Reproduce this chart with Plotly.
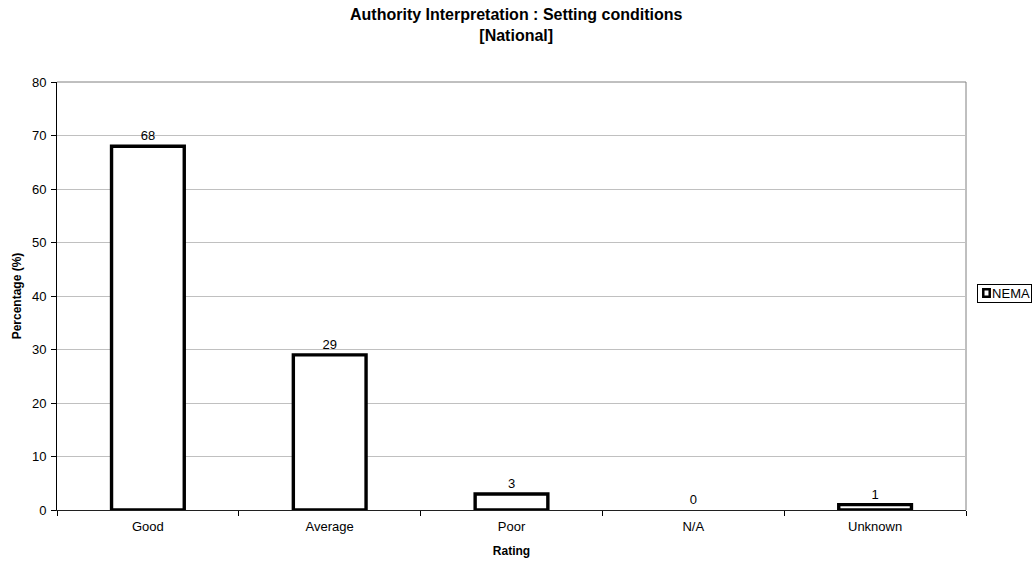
import plotly.graph_objects as go

# Ratings and the percentage for each rating
categories = ["Good", "Average", "Poor", "N/A", "Unknown"]
nema_values = [68, 29, 3, 0, 1]
y_ticks = [0, 10, 20, 30, 40, 50, 60, 70, 80]
series_name = "NEMA"

FONT = "Liberation Sans, Arial, sans-serif"

# Empty bars get no outline so nothing thick sits on the axis
outline_widths = [0 if v == 0 else 3.4 for v in nema_values]

fig = go.Figure()
fig.add_trace(go.Bar(
    x=categories,
    y=nema_values,
    name=series_name,
    marker=dict(color="white", line=dict(color="black", width=outline_widths)),
    text=[str(v) for v in nema_values],
    textposition="outside",
    textfont=dict(family=FONT, size=13, color="black"),
    cliponaxis=False,
    showlegend=False,
))

fig.update_layout(
    width=1034,
    height=561,
    margin=dict(l=57, r=68, t=82, b=51, autoexpand=False),
    paper_bgcolor="white",
    plot_bgcolor="white",
    bargap=0.6,
    font=dict(family=FONT, size=13, color="black"),
    xaxis=dict(
        title=dict(text="<b>Rating</b>", font=dict(family=FONT, size=12), standoff=14),
        showline=True, linecolor="#202020", linewidth=1,
        ticks="outside", tickson="boundaries", ticklen=5, tickcolor="black",
        ticklabelstandoff=4,
        showgrid=False,
        tickfont=dict(family=FONT, size=13),
    ),
    yaxis=dict(
        title=dict(text="<b>Percentage (%)</b>", font=dict(family=FONT, size=12), standoff=7),
        range=[0, 80],
        tickvals=y_ticks,
        showline=True, linecolor="black", linewidth=1,
        ticks="outside", ticklen=5, tickcolor="black",
        ticklabelstandoff=2,
        showgrid=True, gridcolor="#c0c0c0", gridwidth=1,
        zeroline=False,
        tickfont=dict(family=FONT, size=13),
    ),
)

# Chart title
fig.add_annotation(
    text="<b>Authority Interpretation : Setting conditions<br>[National]</b>",
    xref="paper", yref="paper", x=0.5055, y=1.133,
    xanchor="center", yanchor="middle", showarrow=False,
    font=dict(family=FONT, size=16, color="black"),
)

# Plot-area frame (top and right edges in grey)
fig.add_shape(type="line", xref="paper", yref="paper", x0=0, x1=1, y0=1, y1=1,
              line=dict(color="#808080", width=1), layer="below")
fig.add_shape(type="line", xref="paper", yref="paper", x0=1, x1=1, y0=0, y1=1,
              line=dict(color="#808080", width=1), layer="below")

# Series key on the right
fig.add_annotation(
    text=series_name,
    xref="paper", yref="paper", x=1.0121, y=0.505,
    xanchor="left", yanchor="middle", showarrow=False,
    font=dict(family=FONT, size=13, color="black"),
    bordercolor="black", borderwidth=1, borderpad=1,
    width=51, height=15, align="right",
)
fig.add_shape(type="rect", xref="paper", yref="paper",
              x0=1.0190, x1=1.0261, y0=0.4985, y1=0.5155,
              line=dict(color="black", width=2.5), fillcolor="white")

fig.write_html("out.html")
